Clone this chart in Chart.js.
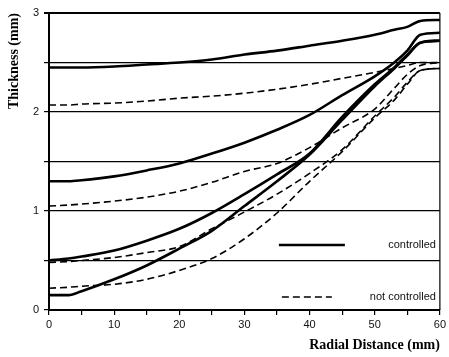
<!DOCTYPE html>
<html>
<head>
<meta charset="utf-8">
<script src="https://cdn.jsdelivr.net/npm/chart.js@4.4.1/dist/chart.umd.min.js"></script>
<style>
  html, body { margin: 0; padding: 0; background: #fff; }
  #wrap { width: 449px; height: 357px; }
</style>
</head>
<body>
<div id="wrap"><canvas id="thicknessChart"></canvas></div>
<script>
// Radial distance (mm) sample positions
const radial = [0, 3, 5, 10, 15, 20, 25, 30, 35, 40, 45, 50, 53, 55, 57, 60];

// Thickness (mm), controlled runs (solid)
const controlledA = [2.45, 2.45, 2.45, 2.46, 2.48, 2.50, 2.53, 2.58, 2.62, 2.67, 2.72, 2.78, 2.83, 2.86, 2.92, 2.93];
const controlledB = [1.30, 1.30, 1.31, 1.35, 1.41, 1.48, 1.58, 1.69, 1.82, 1.97, 2.17, 2.36, 2.50, 2.62, 2.78, 2.80];
const controlledC = [0.50, 0.52, 0.54, 0.60, 0.70, 0.82, 0.98, 1.17, 1.37, 1.58, 1.95, 2.28, 2.45, 2.58, 2.70, 2.72];
const controlledD = [0.15, 0.15, 0.19, 0.31, 0.45, 0.62, 0.80, 1.05, 1.30, 1.57, 1.92, 2.26, 2.44, 2.57, 2.70, 2.72];

// Thickness (mm), not controlled runs (dashed)
const notControlledA = [2.07, 2.07, 2.08, 2.09, 2.11, 2.14, 2.16, 2.19, 2.23, 2.28, 2.34, 2.40, 2.44, 2.47, 2.50, 2.50];
const notControlledB = [1.05, 1.06, 1.07, 1.10, 1.14, 1.20, 1.29, 1.40, 1.48, 1.64, 1.84, 2.03, 2.24, 2.38, 2.47, 2.50];
const notControlledC = [0.48, 0.49, 0.50, 0.53, 0.58, 0.64, 0.82, 0.99, 1.17, 1.38, 1.62, 1.96, 2.15, 2.30, 2.42, 2.44];
const notControlledD = [0.22, 0.23, 0.24, 0.26, 0.31, 0.40, 0.52, 0.72, 0.98, 1.30, 1.60, 1.94, 2.12, 2.28, 2.42, 2.44];

const xTicks = [0, 10, 20, 30, 40, 50, 60];
const yTicks = [0, 1, 2, 3];

const toPoints = vals => vals.map((v, i) => ({ x: radial[i], y: v }));

function lineSet(label, vals, dashed) {
    return {
        label: label,
        data: toPoints(vals),
        borderColor: '#000',
        borderWidth: dashed ? 1.6 : 2.6,
        borderDash: dashed ? [7, 4] : [],
        pointRadius: 0,
        fill: false,
        cubicInterpolationMode: 'monotone'
    };
}

// frame + legend drawn inside the plot like the original figure
const frameAndLegend = {
    id: 'frameAndLegend',
    afterDatasetsDraw(chart) {
        const { ctx, chartArea: a } = chart;
        ctx.save();
        ctx.strokeStyle = '#000';
        ctx.lineWidth = 1.2;
        ctx.beginPath();
        ctx.moveTo(a.right, a.top);
        ctx.lineTo(a.right, a.bottom);
        ctx.stroke();

        ctx.font = '11px "Liberation Sans", Arial, sans-serif';
        ctx.fillStyle = '#111';
        ctx.textAlign = 'right';
        ctx.textBaseline = 'middle';

        const items = [
            { text: 'controlled', y: a.bottom - 65, x0: a.right - 161, x1: a.right - 95, dash: [], w: 2.6 },
            { text: 'not controlled', y: a.bottom - 13, x0: a.right - 158, x1: a.right - 108, dash: [7, 4], w: 1.6 }
        ];
        items.forEach(it => {
            ctx.lineWidth = it.w;
            ctx.setLineDash(it.dash);
            ctx.beginPath();
            ctx.moveTo(it.x0, it.y);
            ctx.lineTo(it.x1, it.y);
            ctx.stroke();
            ctx.setLineDash([]);
            ctx.fillText(it.text, a.right - 4, it.y);
        });
        ctx.restore();
    }
};

new Chart(document.getElementById('thicknessChart'), {
    type: 'line',
    data: {
        datasets: [
            lineSet('controlled', controlledA, false),
            lineSet('controlled', controlledB, false),
            lineSet('controlled', controlledC, false),
            lineSet('controlled', controlledD, false),
            lineSet('not controlled', notControlledA, true),
            lineSet('not controlled', notControlledB, true),
            lineSet('not controlled', notControlledC, true),
            lineSet('not controlled', notControlledD, true)
        ]
    },
    options: {
        responsive: true,
        maintainAspectRatio: false,
        animation: false,
        layout: { padding: { top: 13, right: 8, left: 0, bottom: 0 } },
        plugins: {
            legend: { display: false },
            tooltip: { enabled: false }
        },
        scales: {
            x: {
                type: 'linear',
                min: 0,
                max: 60,
                border: { display: true, color: '#000', width: 2 },
                grid: { drawOnChartArea: false, drawTicks: true, tickLength: 5, color: '#000', lineWidth: 1.2 },
                ticks: {
                    stepSize: 5,
                    autoSkip: false,
                    maxRotation: 0,
                    padding: 3,
                    color: '#111',
                    font: { family: '"Liberation Sans", Arial, sans-serif', size: 11 },
                    callback: v => xTicks.includes(v) ? String(v) : ''
                },
                title: {
                    display: true,
                    text: 'Radial Distance (mm)',
                    align: 'end',
                    color: '#000',
                    font: { family: '"Liberation Serif", "Times New Roman", serif', size: 14, weight: 'bold' },
                    padding: { top: 3, bottom: 3 }
                }
            },
            y: {
                min: 0,
                max: 3,
                afterFit: s => { s.width = 49; },
                border: { display: true, color: '#000', width: 2 },
                grid: {
                    color: '#000',
                    lineWidth: ctx => ctx.tick && ctx.tick.value === 3 ? 2 : 1.2,
                    tickLength: 5
                },
                ticks: {
                    stepSize: 0.5,
                    autoSkip: false,
                    padding: 5,
                    color: '#111',
                    font: { family: '"Liberation Sans", Arial, sans-serif', size: 11 },
                    callback: v => yTicks.includes(v) ? String(v) : ''
                },
                title: {
                    display: true,
                    text: 'Thickness (mm)',
                    align: 'end',
                    color: '#000',
                    font: { family: '"Liberation Serif", "Times New Roman", serif', size: 14, weight: 'bold' },
                    padding: { top: 6, bottom: 0 }
                }
            }
        }
    },
    plugins: [frameAndLegend]
});
</script>
</body>
</html>
